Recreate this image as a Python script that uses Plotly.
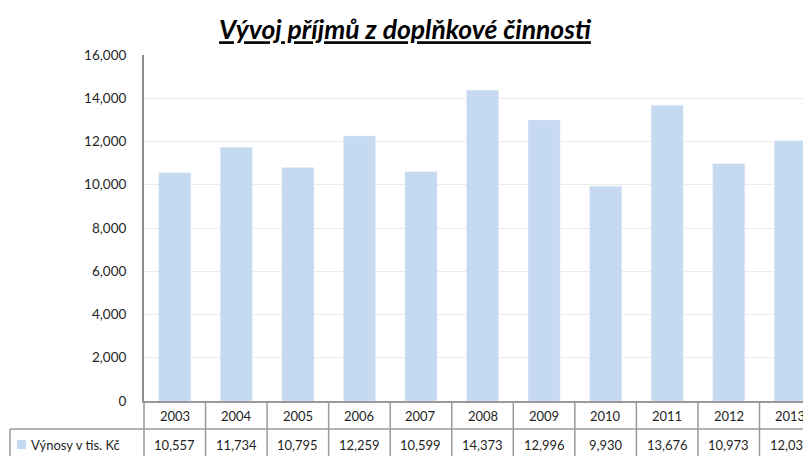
import plotly.graph_objects as go

years = ["2003", "2004", "2005", "2006", "2007", "2008", "2009", "2010", "2011", "2012", "2013"]
values = [10557, 11734, 10795, 12259, 10599, 14373, 12996, 9930, 13676, 10973, 12031]
series_name = "Výnosy v tis. Kč"
title_text = "Vývoj příjmů z doplňkové činnosti"
y_ticks = [0, 2000, 4000, 6000, 8000, 10000, 12000, 14000, 16000]

# page body adds an 8px offset; compensate so the figure ends at the window edge
OFF = 8
W, H = 811 - OFF, 456 - OFF
ML, MR, MT = 144 - OFF, 0, 55 - OFF
MB = H - (401 - OFF)
band = 61.55
xmin = -0.5
xmax = xmin + (W - ML - MR) / band
plot_h = H - MT - MB
FONT = "Lato"
TXT = "#1f1f1f"
LINE = "#9a9a9a"
BAR = "#C5D9F1"

idx = list(range(len(years)))

fig = go.Figure()
fig.add_trace(go.Bar(x=idx, y=values, marker_color=BAR, width=0.52, name=series_name,
                     hoverinfo="skip"))

def px_y(p):  # pixel offset below axis -> paper
    return -p / plot_h

def px_x(p):  # pixel offset relative to plot left edge -> paper
    return p / (W - ML - MR)

def xpaper(v):
    return (v - xmin) / (xmax - xmin)

shapes = []
LEFT_TABLE = 10 - 144  # relative to axis
shapes.append(dict(type="line", xref="paper", yref="paper", x0=px_x(LEFT_TABLE), x1=1,
                   y0=px_y(28), y1=px_y(28), line=dict(color=LINE, width=1.5)))
shapes.append(dict(type="line", xref="paper", yref="paper", x0=px_x(LEFT_TABLE), x1=px_x(LEFT_TABLE),
                   y0=px_y(28), y1=px_y(60), line=dict(color=LINE, width=1.5)))
for k in range(len(years) + 1):
    xp = xpaper(k - 0.5)
    if xp > 1.001:
        continue
    shapes.append(dict(type="line", xref="paper", yref="paper", x0=xp, x1=xp,
                       y0=0, y1=px_y(60), line=dict(color=LINE, width=1.5)))
shapes.append(dict(type="rect", xref="paper", yref="paper",
                   x0=px_x(17 - 144), x1=px_x(26 - 144),
                   y0=px_y(39), y1=px_y(48), fillcolor=BAR, line=dict(width=0)))

annotations = []
for i, (yr, v) in enumerate(zip(years, values)):
    annotations.append(dict(x=i, xref="x", y=px_y(15), yref="paper", text=yr, showarrow=False,
                            font=dict(family=FONT, size=13, color=TXT), xanchor="center", yanchor="middle"))
    annotations.append(dict(x=i, xref="x", y=px_y(44), yref="paper", text=f"{v:,}", showarrow=False,
                            font=dict(family=FONT, size=13, color=TXT), xanchor="center", yanchor="middle"))
annotations.append(dict(x=px_x(29 - 144), xref="paper", y=px_y(44), yref="paper", text=series_name,
                        showarrow=False, font=dict(family=FONT, size=13, color=TXT),
                        xanchor="left", yanchor="middle"))

fig.update_layout(
    width=W, height=H,
    margin=dict(l=ML, r=MR, t=MT, b=MB, autoexpand=False),
    plot_bgcolor="white", paper_bgcolor="white",
    showlegend=False,
    title=dict(text=f"<b><i><u>{title_text}</u></i></b>", x=(405 - OFF) / W, xref="container",
               xanchor="center", y=1 - (30 - OFF) / H, yref="container", yanchor="middle",
               font=dict(family=FONT, size=26.5, color="#000000")),
    xaxis=dict(range=[xmin, xmax], showticklabels=False, ticks="",
               showline=True, linecolor=LINE, linewidth=1.5, showgrid=False, zeroline=False,
               fixedrange=True),
    yaxis=dict(range=[0, 16000], tickvals=y_ticks, tickformat=",d", showline=True,
               linecolor="#8c8c8c", linewidth=2, gridcolor="#ebebeb", gridwidth=1, zeroline=False,
               ticks="", ticklabelstandoff=13,
               tickfont=dict(family=FONT, size=13.5, color=TXT), fixedrange=True),
    shapes=shapes,
    annotations=annotations,
)

fig.write_html("out.html")
